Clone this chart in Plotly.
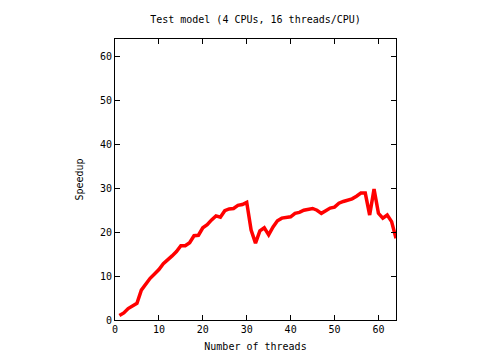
import plotly.graph_objects as go

threads = list(range(1, 65))
speedup = [1.0, 1.6, 2.6, 3.2, 3.8, 6.8, 8.3, 9.5, 10.5, 11.5,
           12.8, 13.6, 14.6, 15.6, 16.9, 16.9, 17.6, 19.2, 19.3, 21.0,
           21.7, 22.8, 23.7, 23.4, 24.9, 25.3, 25.4, 26.1, 26.3, 26.8,
           20.5, 17.5, 20.3, 21.0, 19.4, 21.2, 22.6, 23.2, 23.4, 23.5,
           24.3, 24.5, 25.0, 25.3, 25.4, 25.0, 24.3, 24.9, 25.5, 25.7,
           26.6, 27.0, 27.2, 27.6, 28.2, 28.9, 28.9, 23.9, 29.8, 24.3,
           23.2, 23.9, 22.4, 18.6]

title = "Test model (4 CPUs, 16 threads/CPU)"
xlabel = "Number of threads"
ylabel = "Speedup"

font = dict(family="DejaVu Sans Mono", size=10, color="black")

fig = go.Figure()
fig.add_trace(go.Scatter(x=threads, y=speedup, mode="lines",
                         line=dict(color="#ff0000", width=3.5), showlegend=False))

axis_common = dict(range=[0, 64], showline=True, linecolor="black", linewidth=1,
                   mirror="ticks", ticks="inside", ticklen=5, tickcolor="black",
                   showgrid=False, zeroline=False, tickfont=font, automargin=False,
                   tickvals=[0, 10, 20, 30, 40, 50, 60])

fig.update_layout(
    width=480, height=360,
    margin=dict(l=107, r=92, t=31, b=48),
    plot_bgcolor="white", paper_bgcolor="white",
    font=font,
    title=dict(text=title, x=0.5, xref="paper", y=1 - 11 / 360, yref="container",
               xanchor="center", yanchor="middle", font=font, automargin=False),
    xaxis=dict(title=dict(text=xlabel, font=font, standoff=8), **axis_common),
    yaxis=dict(title=dict(text=ylabel, font=font, standoff=14), **axis_common),
)

fig.write_html("out.html")
